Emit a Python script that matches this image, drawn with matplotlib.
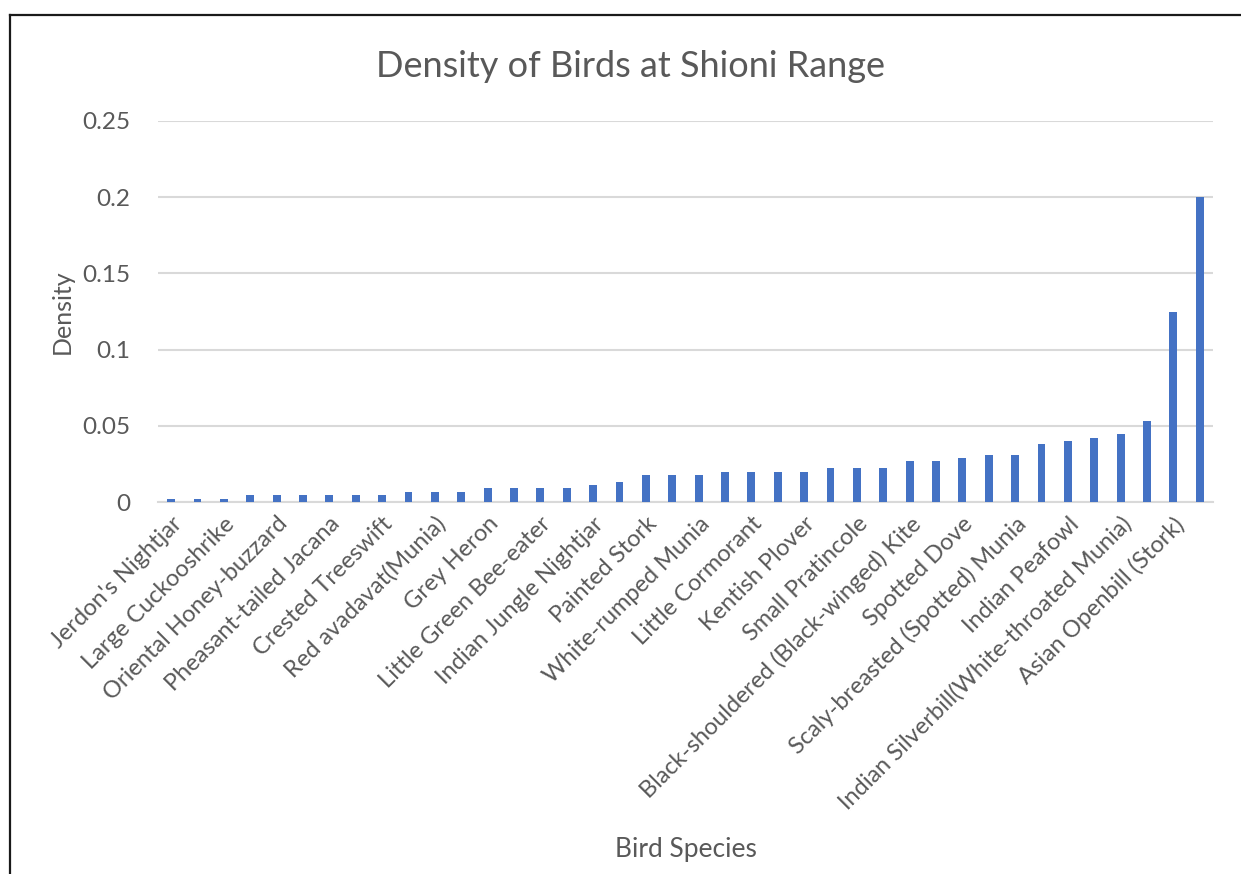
# Bar chart: density of bird species at Shioni Range
import matplotlib.pyplot as plt
from matplotlib.lines import Line2D

# Density of each species (40 bars, ascending); Excel only labels every other bar
density = [0.0022, 0.0022, 0.0022, 0.0044, 0.0044, 0.0044, 0.0044, 0.0044,
           0.0044, 0.0067, 0.0067, 0.0067, 0.0089, 0.0089, 0.0089, 0.0089,
           0.0111, 0.0133, 0.0178, 0.0178, 0.0178, 0.0200, 0.0200, 0.0200,
           0.0200, 0.0222, 0.0222, 0.0222, 0.0267, 0.0267, 0.0289, 0.0311,
           0.0311, 0.0378, 0.0400, 0.0422, 0.0444, 0.0533, 0.1244, 0.2000]

# Labels shown on the axis (bars 1, 3, 5, ... 39)
shown_labels = ["Jerdon's Nightjar", "Large Cuckooshrike", "Oriental Honey-buzzard",
                "Pheasant-tailed Jacana", "Crested Treeswift", "Red avadavat(Munia)",
                "Grey Heron", "Little Green Bee-eater", "Indian Jungle Nightjar",
                "Painted Stork", "White-rumped Munia", "Little Cormorant",
                "Kentish Plover", "Small Pratincole", "Black-shouldered (Black-winged) Kite",
                "Spotted Dove", "Scaly-breasted (Spotted) Munia", "Indian Peafowl",
                "Indian Silverbill(White-throated Munia)", "Asian Openbill (Stork)"]

y_ticks = [0, 0.05, 0.1, 0.15, 0.2, 0.25]
y_tick_labels = ['0', '0.05', '0.1', '0.15', '0.2', '0.25']

text_color = '#595959'
bar_color = '#4472C4'
grid_color = '#D9D9D9'

plt.rcParams['font.family'] = ['Lato', 'DejaVu Sans']

fig = plt.figure(figsize=(12.41, 8.74), dpi=100)
ax = fig.add_axes([0.1273, 0.4256, 0.8501, 0.436])

positions = list(range(len(density)))
ax.bar(positions, density, width=0.3, color=bar_color, zorder=3)

ax.set_xlim(-0.5, len(density) - 0.5)
ax.set_ylim(0, 0.25)
ax.set_yticks(y_ticks)
ax.set_yticklabels(y_tick_labels, fontsize=17.5, color=text_color)
ax.set_xticks(positions[::2])
ax.set_xticklabels(shown_labels, rotation=45, ha='right', rotation_mode='anchor',
                   fontsize=17, color=text_color)
ax.tick_params(axis='both', length=0)
ax.tick_params(axis='y', pad=20)
ax.tick_params(axis='x', pad=8)

# light grid, only the bottom spine kept as the category axis
ax.yaxis.grid(True, color=grid_color, linewidth=1.5, zorder=0)
for side in ['top', 'right', 'left']:
    ax.spines[side].set_visible(False)
ax.spines['bottom'].set_color(grid_color)
ax.spines['bottom'].set_linewidth(1.5)

ax.set_ylabel('Density', fontsize=18, color=text_color, labelpad=6)
fig.text(0.5526, 0.02, 'Bird Species', fontsize=19, color=text_color, ha='center')
fig.text(0.508, 0.912, 'Density of Birds at Shioni Range', fontsize=26,
         color=text_color, ha='center')

# dark border along left and top edges of the screenshot
fig.add_artist(Line2D([10 / 1241, 10 / 1241], [0, 1 - 15 / 874],
                      transform=fig.transFigure, color='#1a1a1a', linewidth=1.6))
fig.add_artist(Line2D([10 / 1241, 1], [1 - 15 / 874, 1 - 15 / 874],
                      transform=fig.transFigure, color='#1a1a1a', linewidth=1.6))

fig.savefig('out.png', dpi=100)
